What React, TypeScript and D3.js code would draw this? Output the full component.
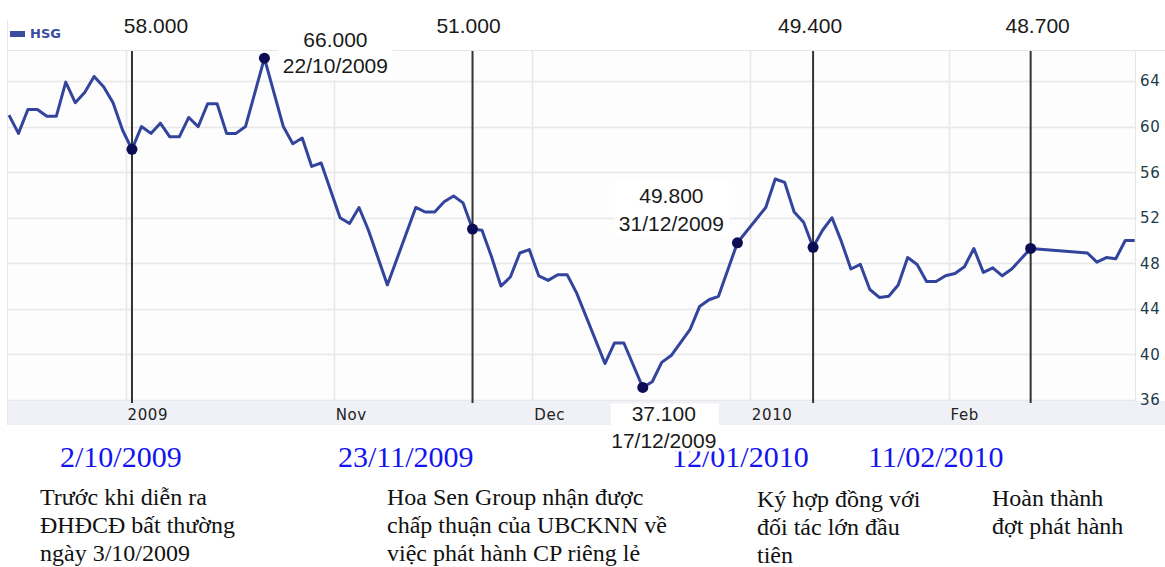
import React from "react";
import * as d3 from "d3";

// ---- data (session index = trading-day slot on the chart, price in thousand VND) ----
const sessionIdx = [
  0, 1, 2, 3, 4, 5, 6, 7, 8, 9, 10, 11, 12, 13, 14, 15, 16, 17, 18, 19, 20, 21, 22, 23, 24, 25,
  27, 29, 30, 31, 32, 33, 35, 36, 37, 38, 40, 43, 44, 45, 46, 47, 48, 49, 50, 51, 52, 53, 54, 55,
  56, 57, 58, 59, 60, 63, 64, 65, 67, 68, 69, 70, 72, 73, 74, 75, 77, 80, 81, 82, 83, 84, 85, 86,
  87, 88, 89, 90, 91, 92, 93, 94, 95, 96, 97, 98, 99, 100, 101, 102, 103, 104, 105, 106, 108,
  114, 115, 116, 117, 118, 119,
];
const closePrice = [
  61.0, 59.4, 61.5, 61.5, 60.9, 60.9, 63.9, 62.1, 63.0, 64.4, 63.5, 62.1, 59.7, 58.0, 60.0, 59.4,
  60.3, 59.1, 59.1, 60.8, 60.0, 62.0, 62.0, 59.4, 59.4, 60.0,
  66.0, 60.0, 58.5, 59.0, 56.5, 56.8, 52.0, 51.5, 52.9, 50.9, 46.1, 52.9, 52.5, 52.5, 53.4, 53.9,
  53.3, 51.0, 50.9, 48.6, 46.0, 46.8, 48.9, 49.2,
  46.9, 46.5, 47.0, 47.0, 45.4, 39.2, 41.0, 41.0, 37.1, 37.6, 39.3, 39.9, 42.2, 44.2, 44.8, 45.1,
  49.8, 52.9, 55.4, 55.1, 52.5, 51.6, 49.4, 50.9,
  52.0, 49.9, 47.5, 47.9, 45.7, 45.0, 45.1, 46.1, 48.5, 47.9, 46.4, 46.4, 46.9, 47.1, 47.7, 49.3,
  47.2, 47.6, 46.9, 47.5, 49.3,
  48.9, 48.1, 48.5, 48.4, 50.0, 50.0,
];
const yTicks = [36, 40, 44, 48, 52, 56, 60, 64];
const monthTickLabels = ["2009", "Nov", "Dec", "2010", "Feb"];
const monthTickSession = [12, 34, 55, 78, 99];

const eventSession = [13, 49, 85, 108];
const eventPriceLabel = ["58.000", "51.000", "49.400", "48.700"];
const eventDateLabel = ["2/10/2009", "23/11/2009", "12/01/2010", "11/02/2010"];
const eventNotes = [
  ["Trước khi diễn ra", "ĐHĐCĐ bất thường", "ngày 3/10/2009"],
  ["Hoa Sen Group nhận được", "chấp thuận của UBCKNN về", "việc phát hành CP riêng lẻ"],
  ["Ký hợp đồng với", "đối tác lớn đầu", "tiên"],
  ["Hoàn thành", "đợt phát hành"],
];

const extremeSession = [27, 77, 67];
const extremePriceLabel = ["66.000", "49.800", "37.100"];
const extremeDateLabel = ["22/10/2009", "31/12/2009", "17/12/2009"];

// ---- layout ----
const W = 1165;
const H = 567;
const PL = 8;
const PR = 1135;
const PT = 50;
const PB = 401;
const BAND_B = 425;
const eventLabelDx = [24, -4, -3, 7];
const eventDateX = [60, 338, 672, 868];
const eventNoteX = [40, 387, 757, 992];
const eventNoteDy = [0, 0, 2, 1];
// label block: dx of centre from marker, dy of first/second baseline, box
const extremeLayout = [
  { dx: 71, dy1: -11, dy2: 15, box: [-57, -40, 114, 62] },
  { dx: -66, dy1: -40, dy2: -12, box: [-57, -62, 115, 53] },
  { dx: 21, dy1: 34, dy2: 61, box: [-53, 16, 108, 48] },
];

const LINE_COLOR = "#33449c";
const MARK_COLOR = "#0d0d55";
const NUM_FONT = "'Liberation Sans', Arial, sans-serif";
const AXIS_FONT = "'DejaVu Sans', Verdana, sans-serif";
const SERIF = "'Liberation Serif', 'Times New Roman', serif";

export default function App() {
  const x = d3.scaleLinear().domain([0, 119]).range([9, 1134.7]);
  const y = d3.scaleLinear().domain([36, 64]).range([400, 81]);
  const pts = sessionIdx.map((s, i) => [s, closePrice[i]] as [number, number]);
  const line = d3
    .line<[number, number]>()
    .x((d) => x(d[0]))
    .y((d) => y(d[1]));
  const priceAt = (s: number) => closePrice[sessionIdx.indexOf(s)];

  return (
    <div>
      <style>{`body{margin:0;background:#fff}`}</style>
      <svg width={W} height={H} style={{ display: "block" }}>
        <rect x={0} y={0} width={W} height={H} fill="#ffffff" />
        {/* plot background */}
        <rect x={PL} y={PT} width={PR - PL} height={PB - PT} fill="#fdfdfd" />
        {/* frame */}
        <line x1={7.5} x2={7.5} y1={20} y2={BAND_B} stroke="#e6e6e6" />
        <line x1={PL} x2={W} y1={PT + 0.5} y2={PT + 0.5} stroke="#e6e6e6" />
        <line x1={PR + 0.5} x2={PR + 0.5} y1={PT} y2={PB} stroke="#e6e6e6" />
        {/* horizontal grid */}
        {yTicks.map((t) => (
          <line key={"h" + t} x1={PL} x2={PR} y1={Math.round(y(t)) + 0.5} y2={Math.round(y(t)) + 0.5} stroke="#e8e8e8" strokeWidth={1.5} />
        ))}
        {/* vertical month grid */}
        {monthTickSession.map((s, i) => (
          <line key={"v" + i} x1={Math.round(x(s) + 3) + 0.5} x2={Math.round(x(s) + 3) + 0.5} y1={PT} y2={PB} stroke="#e8e8e8" strokeWidth={1.5} />
        ))}
        {/* axis band */}
        <rect x={PL} y={PB} width={W - PL} height={BAND_B - PB} fill="#f0f1f6" />
        {monthTickSession.map((s, i) => (
          <text key={"m" + i} x={x(s) + 5} y={420} fontFamily={AXIS_FONT} fontSize={15} letterSpacing={0.6} fill="#222">
            {monthTickLabels[i]}
          </text>
        ))}
        {/* y axis labels */}
        {yTicks.map((t) => (
          <text key={"yl" + t} x={1140} y={y(t)} dy="0.36em" fontFamily={AXIS_FONT} fontSize={15} letterSpacing={0.6} fill="#1d3b4a">
            {t}
          </text>
        ))}
        {/* legend */}
        <rect x={10} y={31} width={15} height={6} fill="#3a4ca0" />
        <text x={30} y={38} fontFamily={AXIS_FONT} fontWeight="bold" fontSize={13} fill="#3a4ca0">
          HSG
        </text>
        {/* price line */}
        <path d={line(pts) || ""} fill="none" stroke={LINE_COLOR} strokeWidth={3} strokeLinejoin="round" />
        {/* event vertical lines */}
        {eventSession.map((s, i) => (
          <line key={"ev" + i} x1={x(s)} x2={x(s)} y1={PT + 1} y2={PB + 2} stroke="#333" strokeWidth={2} />
        ))}
        {/* markers */}
        {[...eventSession, ...extremeSession].map((s, i) => (
          <circle key={"mk" + i} cx={x(s)} cy={y(priceAt(s))} r={5.5} fill={MARK_COLOR} />
        ))}
        {/* event price labels at top */}
        {eventSession.map((s, i) => (
          <text key={"ep" + i} x={x(s) + eventLabelDx[i]} y={33} textAnchor="middle" fontFamily={NUM_FONT} fontSize={21} fill="#1a1a1a">
            {eventPriceLabel[i]}
          </text>
        ))}
        {/* bottom blue dates */}
        {eventDateLabel.map((d, i) => (
          <text key={"ed" + i} x={eventDateX[i]} y={467} fontFamily={SERIF} fontSize={30} fill="#1414f0">
            {d}
          </text>
        ))}
        {/* bottom notes */}
        {eventNotes.map((lines, i) =>
          lines.map((ln, j) => (
            <text key={"en" + i + "-" + j} x={eventNoteX[i]} y={505 + j * 28 + eventNoteDy[i]} fontFamily={SERIF} fontSize={24} fill="#111">
              {ln}
            </text>
          ))
        )}
        {/* extreme labels */}
        {extremeSession.map((s, i) => {
          const cx = x(s) + extremeLayout[i].dx;
          const cy = y(priceAt(s));
          const b = extremeLayout[i].box;
          return (
            <g key={"ex" + i}>
              <rect x={cx + b[0]} y={cy + b[1]} width={b[2]} height={b[3]} fill="#ffffff" />
              <text x={cx} y={cy + extremeLayout[i].dy1} textAnchor="middle" fontFamily={NUM_FONT} fontSize={21} fill="#1a1a1a">
                {extremePriceLabel[i]}
              </text>
              <text x={cx} y={cy + extremeLayout[i].dy2} textAnchor="middle" fontFamily={NUM_FONT} fontSize={21} fill="#1a1a1a">
                {extremeDateLabel[i]}
              </text>
            </g>
          );
        })}
      </svg>
    </div>
  );
}
